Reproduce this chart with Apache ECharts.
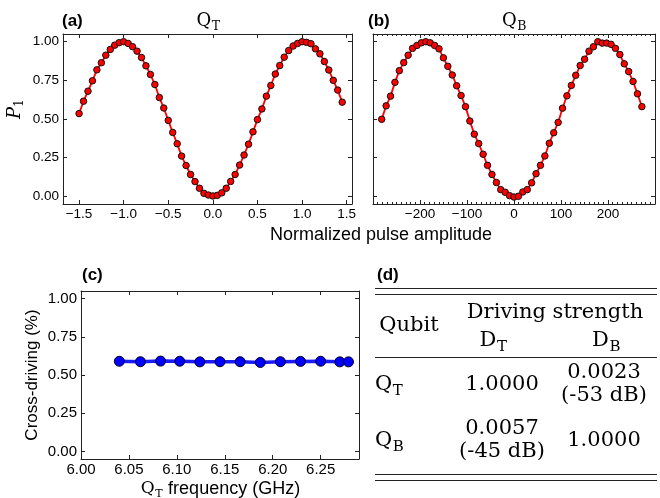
<!DOCTYPE html>
<html><head><meta charset="utf-8">
<script src="https://cdn.jsdelivr.net/npm/echarts@6/dist/echarts.min.js"></script>
<style>html,body{margin:0;padding:0;background:#fff}#c{width:660px;height:498px}</style>
</head><body><div id="c"></div>
<script>
// ---------- data ----------
const aX = [-1.50,-1.45,-1.40,-1.35,-1.30,-1.25,-1.20,-1.15,-1.10,-1.05,-1.00,-0.95,-0.90,-0.85,-0.80,-0.75,-0.70,-0.65,-0.60,-0.55,
            -0.50,-0.45,-0.40,-0.35,-0.30,-0.25,-0.20,-0.15,-0.10,-0.05,0.00,0.05,0.10,0.15,0.20,0.25,0.30,0.35,0.40,0.45,
            0.50,0.55,0.60,0.65,0.70,0.75,0.80,0.85,0.90,0.95,1.00,1.05,1.10,1.15,1.20,1.25,1.30,1.35,1.40,1.45];
const aY = [0.535,0.615,0.680,0.747,0.818,0.864,0.913,0.950,0.978,0.994,1.000,0.989,0.968,0.939,0.898,0.844,0.788,0.723,0.639,0.571,
            0.491,0.413,0.340,0.260,0.199,0.141,0.095,0.052,0.019,0.008,0.002,0.006,0.022,0.052,0.096,0.141,0.202,0.267,0.337,0.417,
            0.496,0.565,0.648,0.717,0.791,0.846,0.900,0.943,0.972,0.989,1.000,0.996,0.987,0.954,0.922,0.872,0.817,0.750,0.687,0.609];
const bX = [-281.5,-272.1,-262.7,-253.3,-244.0,-234.6,-225.2,-215.8,-206.5,-197.1,-187.7,-178.3,-168.9,-159.6,-150.2,-140.8,-131.4,-122.0,-112.6,-103.2,
            -93.9,-84.5,-75.1,-65.7,-56.3,-46.9,-37.5,-28.2,-18.8,-9.4,0.0,9.4,18.8,28.2,37.5,46.9,56.3,65.7,75.1,84.5,
            93.9,103.2,112.6,122.0,131.4,140.8,150.2,159.6,168.9,178.3,187.7,197.1,206.5,215.8,225.2,234.6,244.0,253.3,262.7,272.1];
const bY = [0.498,0.585,0.648,0.737,0.813,0.865,0.913,0.957,0.976,0.993,1.000,0.993,0.976,0.954,0.896,0.841,0.785,0.715,0.652,0.580,
            0.487,0.402,0.341,0.272,0.200,0.141,0.089,0.043,0.026,0.004,-0.005,0.000,0.028,0.043,0.087,0.146,0.200,0.261,0.343,0.411,
            0.478,0.570,0.650,0.717,0.783,0.846,0.887,0.939,0.967,1.000,0.991,0.991,0.983,0.957,0.917,0.857,0.807,0.743,0.663,0.580];
const cX = [6.040,6.062,6.083,6.103,6.124,6.145,6.166,6.187,6.208,6.229,6.250,6.270,6.279];
const cY = [0.590,0.587,0.591,0.590,0.586,0.587,0.587,0.582,0.587,0.589,0.590,0.586,0.586];

const aTicks = [-1.5,-1.0,-0.5,0.0,0.5,1.0,1.5];
const pTicks = [0,0.25,0.5,0.75,1.0];
const cTicks = [6.00,6.05,6.10,6.15,6.20,6.25];

const tableHeader = ['Qubit','Driving strength'];
const tableRows = [
  {q:'T', dT:['1.0000'], dB:['0.0023','(-53 dB)']},
  {q:'B', dT:['0.0057','(-45 dB)'], dB:['1.0000']}
];

// ---------- helpers ----------
const SANS = 'Liberation Sans';
const SERIF = 'DejaVu Serif';
const FRAME = '#222';
const ctx = document.createElement('canvas').getContext('2d');
function tw(t, font){ ctx.font = font; return ctx.measureText(t).width; }
function txt(x, y, text, font, align, valign, extra){
  return Object.assign({type:'text', x:x, y:y, silent:true,
    style:{text:text, font:font, fill:'#000', align:align||'left', verticalAlign:valign||'middle',
           textAlign:align||'left', textVerticalAlign:valign||'middle'}}, extra||{});
}
function subText(x, y, main, sub, size, subSize, rest, restFont, anchor){
  const mf = size + 'px "' + SERIF + '"';
  const sf = subSize + 'px "' + SERIF + '"';
  const wM = tw(main, mf), wS = tw(sub, sf), wR = rest ? tw(rest, restFont) : 0;
  const total = wM + wS + wR;
  let x0 = anchor === 'center' ? -total/2 : 0;
  const kids = [txt(x0, 0, main, mf, 'left', 'middle'),
                txt(x0 + wM + 0.5, size*0.30, sub, sf, 'left', 'middle')];
  if (rest) kids.push(txt(x0 + wM + wS + 1, 0, rest, restFont, 'left', 'middle'));
  return {type:'group', x:x, y:y, children:kids};
}
function minusFmt(v, d){ return (v < 0 ? '\u2212' : '') + Math.abs(v).toFixed(d); }

function tickLabel(size){ return {color:'#000', fontFamily:SANS, fontSize:size}; }
function xPair(grid, min, max, extra, labelCfg){
  const base = {type:'value', gridIndex:grid, min:min, max:max, scale:true,
    axisLine:{show:true, onZero:false, lineStyle:{color:FRAME, width:1}},
    splitLine:{show:false}};
  const bottom = Object.assign({}, base, extra.bottom, {position:'bottom', axisLabel:labelCfg});
  const top = Object.assign({}, base, extra.top, {position:'top', axisLabel:{show:false}});
  return [bottom, top];
}
function yPair(grid, labelSize){
  const base = {type:'value', gridIndex:grid, min:-0.05, max:1.05,
    axisLine:{show:true, onZero:false, lineStyle:{color:FRAME, width:1}},
    axisTick:{show:true, inside:true, length:4, customValues:pTicks, lineStyle:{color:FRAME}},
    splitLine:{show:false}};
  const left = Object.assign({}, base, {position:'left',
    axisLabel: labelSize ? Object.assign(tickLabel(labelSize), {margin:4, customValues:pTicks, formatter:v=>v.toFixed(2)}) : {show:false}});
  const right = Object.assign({}, base, {position:'right', axisLabel:{show:false}});
  return [left, right];
}

const tickA = {axisTick:{show:true, inside:true, length:4, customValues:aTicks, lineStyle:{color:FRAME}}};
const xA = xPair(0, -1.68, 1.56, {bottom:tickA, top:tickA},
  Object.assign(tickLabel(13.5), {margin:3, customValues:aTicks, formatter:v=>minusFmt(v,1)}));
const tickB = {axisTick:{show:true, inside:true, length:4, lineStyle:{color:FRAME}},
               minorTick:{show:true, splitNumber:10, length:2, lineStyle:{color:FRAME}}, interval:100};
const xB = xPair(1, -300, 300, {bottom:tickB, top:tickB},
  Object.assign(tickLabel(13.5), {margin:3, formatter:v=>Math.abs(v)===300 ? '' : minusFmt(v,0), showMinLabel:true, showMaxLabel:true}));
const tickC = {axisTick:{show:true, inside:true, length:4, customValues:cTicks, lineStyle:{color:FRAME}}};
const xC = xPair(2, 6.00, 6.29, {bottom:tickC, top:tickC},
  Object.assign(tickLabel(15), {margin:3, customValues:cTicks, formatter:v=>v.toFixed(2)}));

const xAxes = [...xA, ...xB, ...xC];
const yAxes = [...yPair(0,13.5), ...yPair(1,0), ...yPair(2,15)];

function zip(xs, ys){ return xs.map((x,i)=>[x, ys[i]]); }
const redSeries = (xi, yi, xs, ys) => ({type:'line', xAxisIndex:xi, yAxisIndex:yi, data:zip(xs,ys),
  symbol:'circle', symbolSize:6.5, showAllSymbol:true, animation:false, z:3,
  lineStyle:{color:'#ff0000', width:1.8},
  itemStyle:{color:'#ff0000', borderColor:'#111', borderWidth:1}});

const series = [
  redSeries(0, 0, aX, aY),
  redSeries(2, 2, bX, bY),
  {type:'line', xAxisIndex:4, yAxisIndex:4, data:zip(cX,cY), symbol:'circle', symbolSize:10,
   showAllSymbol:true, animation:false,
   lineStyle:{color:'#1a1aff', width:3.5},
   itemStyle:{color:'#0000ff', borderColor:'#000022', borderWidth:1}}
];

// ---------- graphic texts & table ----------
const boldF = 'bold 17px "' + SANS + '"';
const titleF = '18px "' + SANS + '"';
const yTitleF = '17px "' + SANS + '"';
const tF = 21, tSub = 15;
const tFont = tF + 'px "' + SERIF + '"';
const g = [
  txt(62, 21, '(a)', boldF),
  txt(368, 21, '(b)', boldF),
  txt(82, 275, '(c)', boldF),
  txt(377, 275, '(d)', boldF),
  subText(208, 21, 'Q', 'T', 18, 12.5, null, null, 'center'),
  subText(514, 21, 'Q', 'B', 18, 12.5, null, null, 'center'),
  txt(381, 235, 'Normalized pulse amplitude', titleF, 'center'),
  {type:'group', x:15, y:113, rotation:Math.PI/2, children:[
     txt(0, 0, 'P', 'italic 18px "' + SERIF + '"', 'center'),
     txt(6, 5, '1', '12px "' + SERIF + '"', 'left')]},
  {type:'group', x:32, y:375, rotation:Math.PI/2, children:[
     txt(0, 0, 'Cross-driving (%)', yTitleF, 'center')]},
  subText(220, 489, 'Q', 'T', 17, 11, ' frequency (GHz)', titleF, 'center'),
  ...[288.5, 294.5, 357.5, 474.5, 480.5].map(y => ({type:'line', silent:true,
      shape:{x1:375, y1:y, x2:657, y2:y}, style:{stroke:'#222', lineWidth:1.2}})),
  txt(409, 326, tableHeader[0], tFont, 'center'),
  txt(555, 313, tableHeader[1], tFont, 'center'),
  subText(493, 341, 'D', 'T', tF, tSub, null, null, 'center'),
  subText(606, 341, 'D', 'B', tF, tSub, null, null, 'center'),
];
const rowY = [385, 441];
tableRows.forEach((r, i) => {
  const y = rowY[i];
  g.push(subText(375, y, 'Q', r.q, tF, tSub, null, null, 'left'));
  const put = (cx, arr) => {
    if (arr.length === 1) g.push(txt(cx, y, arr[0], tFont, 'center'));
    else { g.push(txt(cx, y - 12, arr[0], tFont, 'center')); g.push(txt(cx, y + 11, arr[1], tFont, 'center')); }
  };
  put(502, r.dT);
  put(604, r.dB);
});

const chart = echarts.init(document.getElementById('c'), null, {renderer:'canvas'});
chart.setOption({
  animation:false,
  backgroundColor:'#fff',
  grid:[
    {left:63, top:34, width:289, height:170},
    {left:373, top:34, width:282, height:170},
    {left:81, top:291, width:278, height:168}
  ],
  xAxis: xAxes,
  yAxis: yAxes,
  series: series,
  graphic: g
});
</script></body></html>
